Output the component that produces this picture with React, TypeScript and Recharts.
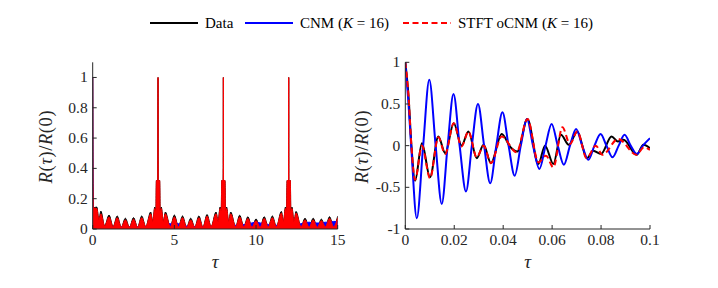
import React from 'react';
import { ComposedChart, LineChart, Area, Line, XAxis, YAxis, Label } from 'recharts';

const FONT = '"Liberation Serif", "Times New Roman", serif';
const AX = '#262626';

// ---------- tick labels ----------
const leftTicksX = [0, 5, 10, 15];
const leftTicksY = [0, 0.2, 0.4, 0.6, 0.8, 1];
const rightTicksX = [0, 0.02, 0.04, 0.06, 0.08, 0.1];
const rightTicksY = [-1, -0.5, 0, 0.5, 1];

// ---------- legend ----------
const legendNames = ['Data', 'CNM', 'STFT oCNM'];
const legendK = [null, 16, 16];
const seriesColors = ['#000000', '#0000ff', '#ff0000'];

// ---------- left panel (envelope of R(tau)/R(0), tau in 0..15) ----------
const leftTau = [
  0, 0.02, 0.05, 0.25, 0.38, 0.5, 0.73, 1.0, 1.25, 1.5, 1.75, 2.0, 2.25, 2.5, 2.75, 3.0, 3.25, 3.55, 3.68, 3.8, 3.87, 3.9, 3.99, 4.0, 4.01, 4.1, 4.13, 4.2, 4.32, 4.45, 4.75,
  5.0, 5.25, 5.5, 5.75, 6.0, 6.25, 6.5, 6.75, 7.0, 7.25, 7.55, 7.68, 7.8, 7.87, 7.9, 7.99, 8.0, 8.01, 8.1, 8.13, 8.2, 8.32, 8.45, 8.75,
  9.0, 9.25, 9.5, 9.75, 10.0, 10.25, 10.5, 10.75, 11.0, 11.25, 11.55, 11.68, 11.8, 11.87, 11.9, 11.99, 12.0, 12.01, 12.1, 12.13, 12.2, 12.32, 12.45, 12.75,
  13.0, 13.25, 13.5, 13.75, 14.0, 14.25, 14.5, 14.75, 15.0,
];
const leftStft = [
  1.0, 0.3, 0.14, 0.135, 0.06, 0.1, 0.02, 0.08, 0.015, 0.075, 0.012, 0.06, 0.012, 0.065, 0.012, 0.075, 0.015, 0.1, 0.05, 0.135, 0.12, 0.32, 0.32, 1.0, 0.32, 0.32, 0.12, 0.135, 0.05, 0.1, 0.015,
  0.08, 0.015, 0.075, 0.012, 0.06, 0.012, 0.075, 0.012, 0.085, 0.015, 0.1, 0.05, 0.135, 0.12, 0.32, 0.32, 1.0, 0.32, 0.32, 0.12, 0.135, 0.05, 0.1, 0.015,
  0.08, 0.015, 0.07, 0.012, 0.055, 0.012, 0.07, 0.015, 0.075, 0.015, 0.105, 0.05, 0.135, 0.12, 0.32, 0.32, 1.0, 0.32, 0.32, 0.12, 0.135, 0.05, 0.105, 0.015,
  0.06, 0.012, 0.06, 0.012, 0.055, 0.015, 0.07, 0.015, 0.075,
];
const leftData = [
  1.0, 0.3, 0.14, 0.145, 0.06, 0.118, 0.02, 0.092, 0.015, 0.086, 0.012, 0.071, 0.012, 0.075, 0.012, 0.086, 0.015, 0.112, 0.05, 0.145, 0.12, 0.32, 0.32, 1.0, 0.32, 0.32, 0.12, 0.145, 0.05, 0.112, 0.015,
  0.092, 0.015, 0.086, 0.012, 0.071, 0.012, 0.086, 0.012, 0.095, 0.015, 0.112, 0.05, 0.145, 0.12, 0.32, 0.32, 1.0, 0.32, 0.32, 0.12, 0.145, 0.05, 0.112, 0.015,
  0.091, 0.015, 0.081, 0.012, 0.066, 0.012, 0.081, 0.015, 0.086, 0.015, 0.116, 0.05, 0.145, 0.12, 0.32, 0.32, 1.0, 0.32, 0.32, 0.12, 0.145, 0.05, 0.116, 0.015,
  0.071, 0.012, 0.071, 0.012, 0.065, 0.015, 0.081, 0.015, 0.085,
];
const leftCnm = [
  1.0, 0.3, 0.06, 0.03, 0.02, 0.025, 0.015, 0.02, 0.012, 0.02, 0.012, 0.018, 0.012, 0.018, 0.012, 0.02, 0.015, 0.025, 0.025, 0.03, 0.03, 0.03, 0.04, 0.04, 0.04, 0.03, 0.03, 0.03, 0.03, 0.035, 0.035,
  0.04, 0.035, 0.03, 0.02, 0.02, 0.015, 0.02, 0.015, 0.02, 0.015, 0.025, 0.025, 0.03, 0.03, 0.03, 0.04, 0.04, 0.04, 0.03, 0.03, 0.03, 0.03, 0.03, 0.025,
  0.03, 0.03, 0.035, 0.04, 0.045, 0.04, 0.035, 0.03, 0.03, 0.025, 0.025, 0.025, 0.03, 0.03, 0.03, 0.04, 0.04, 0.04, 0.03, 0.03, 0.03, 0.03, 0.03, 0.035,
  0.04, 0.045, 0.04, 0.04, 0.04, 0.045, 0.045, 0.05, 0.05,
];

// ---------- right panel (tau in 0..0.1) ----------
const rightDataTau = [0, 0.0013, 0.0025, 0.004, 0.0068, 0.0101, 0.0135, 0.0163, 0.0198, 0.023, 0.0258, 0.0292, 0.032, 0.035, 0.0394, 0.043, 0.0458, 0.0499, 0.0544, 0.0571, 0.0605, 0.0636, 0.0668, 0.0703, 0.0742, 0.0768, 0.08, 0.0843, 0.0868, 0.0892, 0.0945, 0.0973, 0.1];
const rightDataVal = [1, 0.6, 0, -0.42, 0.03, -0.38, 0.11, -0.09, 0.27, 0, 0.17, -0.15, 0.01, -0.21, 0.14, -0.02, -0.07, 0.32, -0.22, 0, -0.22, 0.13, 0.01, 0.17, -0.15, -0.06, -0.1, 0.11, 0.05, 0.07, -0.11, 0.01, -0.03];

const rightCnmTau = [0, 0.0012, 0.0024, 0.0047, 0.0073, 0.0098, 0.0124, 0.0149, 0.0173, 0.0197, 0.0222, 0.0248, 0.0272, 0.0297, 0.0322, 0.0347, 0.0372, 0.0397, 0.0422, 0.0447, 0.0472, 0.0497, 0.0522, 0.0548, 0.0573, 0.0598, 0.0623, 0.0648, 0.0673, 0.0698, 0.0723, 0.0748, 0.0773, 0.0798, 0.0822, 0.0847, 0.0872, 0.0896, 0.0921, 0.0946, 0.0971, 0.1];
const rightCnmVal = [1, 0.55, 0, -0.87, 0, 0.79, 0, -0.7, 0, 0.62, 0, -0.55, 0, 0.5, 0, -0.45, 0, 0.4, 0, -0.36, 0, 0.32, 0, -0.28, 0, 0.26, 0, -0.23, 0, 0.2, 0, -0.17, 0, 0.14, 0, -0.14, 0, 0.13, 0, -0.1, 0, 0.09];

const rightStftTau = [0, 0.0013, 0.0025, 0.004, 0.0068, 0.0101, 0.0135, 0.0163, 0.0198, 0.023, 0.0258, 0.0292, 0.032, 0.035, 0.0394, 0.0455, 0.0499, 0.0544, 0.0575, 0.0605, 0.0642, 0.0673, 0.0703, 0.0741, 0.0779, 0.0805, 0.087, 0.0945, 0.0975, 0.1];
const rightStftVal = [1, 0.6, 0, -0.41, 0, -0.39, 0.1, -0.1, 0.27, -0.01, 0.17, -0.14, 0, -0.21, 0.11, -0.08, 0.32, -0.2, -0.12, -0.26, 0.22, 0.02, 0.17, -0.15, 0, -0.11, 0.08, -0.11, -0.02, -0.05];

// ---------- tables built from the arrays ----------
const leftRows = leftTau.map((t, i) => ({ tau: t, data: leftData[i], cnm: leftCnm[i], stft: leftStft[i] }));
const toPts = (ts: number[], vs: number[]) => ts.map((t, i) => ({ t, v: vs[i] }));
const rightData = toPts(rightDataTau, rightDataVal);
const rightCnm = toPts(rightCnmTau, rightCnmVal);
const rightStft = toPts(rightStftTau, rightStftVal);

const blank = () => '';

const XTick = (props: any) => {
  const { x, y, payload } = props;
  return (
    <text x={x} y={y} dy={10.5} textAnchor="middle" fontFamily={FONT} fontSize={15.5} fill={AX}>
      {String(payload.value)}
    </text>
  );
};
const YTick = (props: any) => {
  const { x, y, payload } = props;
  return (
    <text x={x} y={y} dy={5} textAnchor="end" fontFamily={FONT} fontSize={15.5} fill={AX}>
      {String(payload.value)}
    </text>
  );
};

const makeYTitle = (cx: number) => (props: any) => {
  const vb = props && props.viewBox ? props.viewBox : { y: 62, height: 167 };
  const cy = vb.y + vb.height / 2 + 1;
  return (
    <text x={cx} y={cy} transform={`rotate(-90, ${cx}, ${cy})`} textAnchor="middle" dominantBaseline="central"
      fontFamily={FONT} fontSize={18.5} letterSpacing={0.6} fill={AX}>
      <tspan fontStyle="italic">R</tspan>(<tspan fontStyle="italic">τ</tspan>)/<tspan fontStyle="italic">R</tspan>(0)
    </text>
  );
};

const makeXTitle = (y: number) => (props: any) => {
  const vb = props && props.viewBox ? props.viewBox : { x: 0, width: 0 };
  const cx = vb.x + vb.width / 2;
  return (
    <text x={cx} y={y} textAnchor="middle" fontFamily={FONT} fontSize={19} fill={AX} fontStyle="italic">τ</text>
  );
};

function LegendBar() {
  const lineX = [150, 245, 403];
  const textX = [205, 300, 458];
  const y = 23;
  return (
    <svg width={718} height={45} style={{ position: 'absolute', left: 0, top: 0 }}>
      {legendNames.map((name, i) => (
        <g key={name}>
          <line x1={lineX[i]} x2={lineX[i] + 48} y1={y} y2={y} stroke={seriesColors[i]} strokeWidth={2}
            strokeDasharray={i === 2 ? '6 3.5' : undefined} />
          <text x={textX[i]} y={y} dominantBaseline="central" fontFamily={FONT} fontSize={15} fill="#000">
            {name}
            {legendK[i] !== null ? (
              <>
                {' ('}
                <tspan fontStyle="italic">K</tspan>
                {' = '}
                {legendK[i]}
                {')'}
              </>
            ) : null}
          </text>
        </g>
      ))}
    </svg>
  );
}

export default function App() {
  return (
    <div style={{ position: 'absolute', left: 0, top: 0, width: 718, height: 288, background: '#fff', overflow: 'hidden' }}>
      <LegendBar />
      <div style={{ position: 'absolute', left: 0, top: 0 }}>
        <ComposedChart width={350} height={288} data={leftRows} margin={{ top: 62.3, right: 12.3, bottom: 0, left: 22.7 }}>
          <XAxis xAxisId="b" dataKey="tau" type="number" domain={[0, 15]} ticks={leftTicksX} allowDataOverflow interval={0}
            height={59} tickSize={-4} tickMargin={9} tick={XTick} axisLine={{ stroke: AX }} tickLine={{ stroke: AX }}>
            <Label content={makeXTitle(268)} />
          </XAxis>
          <XAxis xAxisId="t" orientation="top" dataKey="tau" type="number" domain={[0, 15]} ticks={leftTicksX} allowDataOverflow interval={0}
            height={0} tickSize={-4} tickFormatter={blank} axisLine={{ stroke: AX }} tickLine={{ stroke: AX }} />
          <YAxis yAxisId="l" type="number" domain={[0, 1.1]} ticks={leftTicksY} allowDataOverflow interval={0}
            width={70} tickSize={-4} tickMargin={9} tick={YTick} axisLine={{ stroke: AX }} tickLine={{ stroke: AX }}>
            <Label content={makeYTitle(46.5)} />
          </YAxis>
          <YAxis yAxisId="r" orientation="right" type="number" domain={[0, 1.1]} ticks={leftTicksY} allowDataOverflow interval={0}
            width={0} tickSize={-4} tickFormatter={blank} axisLine={{ stroke: AX }} tickLine={{ stroke: AX }} />
          <Area xAxisId="b" yAxisId="l" type="monotone" dataKey="data" stroke="#000000" strokeWidth={1} fill="#000000" fillOpacity={1}
            dot={false} activeDot={false} isAnimationActive={false} />
          <Area xAxisId="b" yAxisId="l" type="monotone" dataKey="cnm" stroke="#0000ff" strokeWidth={1} fill="#0000ff" fillOpacity={1}
            dot={false} activeDot={false} isAnimationActive={false} />
          <Area xAxisId="b" yAxisId="l" type="monotone" dataKey="stft" stroke="#ff0000" strokeWidth={1} fill="#ff0000" fillOpacity={1}
            dot={false} activeDot={false} isAnimationActive={false} />
        </ComposedChart>
      </div>
      <div style={{ position: 'absolute', left: 345, top: 0 }}>
        <LineChart width={373} height={288} margin={{ top: 62.3, right: 68, bottom: 0, left: 0 }}>
          <XAxis xAxisId="b" dataKey="t" type="number" domain={[0, 0.1]} ticks={rightTicksX} allowDataOverflow interval={0}
            height={59} tickSize={-4} tickMargin={9} tick={XTick} axisLine={{ stroke: AX }} tickLine={{ stroke: AX }}>
            <Label content={makeXTitle(268)} />
          </XAxis>
          <XAxis xAxisId="t" orientation="top" dataKey="t" type="number" domain={[0, 0.1]} ticks={rightTicksX} allowDataOverflow interval={0}
            height={0} tickSize={-4} tickFormatter={blank} axisLine={{ stroke: AX }} tickLine={{ stroke: AX }} />
          <YAxis yAxisId="l" type="number" domain={[-1, 1]} ticks={rightTicksY} allowDataOverflow interval={0}
            width={60.3} tickSize={-4} tickMargin={9} tick={YTick} axisLine={{ stroke: AX }} tickLine={{ stroke: AX }}>
            <Label content={makeYTitle(17)} />
          </YAxis>
          <YAxis yAxisId="r" orientation="right" type="number" domain={[-1, 1]} ticks={rightTicksY} allowDataOverflow interval={0}
            width={0} tickSize={-4} tickFormatter={blank} axisLine={{ stroke: AX }} tickLine={{ stroke: AX }} />
          <Line xAxisId="b" yAxisId="l" data={rightData} type="monotone" dataKey="v" stroke="#000000" strokeWidth={2}
            dot={false} activeDot={false} isAnimationActive={false} />
          <Line xAxisId="b" yAxisId="l" data={rightCnm} type="monotone" dataKey="v" stroke="#0000ff" strokeWidth={2}
            dot={false} activeDot={false} isAnimationActive={false} />
          <Line xAxisId="b" yAxisId="l" data={rightStft} type="monotone" dataKey="v" stroke="#ff0000" strokeWidth={2}
            strokeDasharray="6 3.5" dot={false} activeDot={false} isAnimationActive={false} />
        </LineChart>
      </div>
    </div>
  );
}
